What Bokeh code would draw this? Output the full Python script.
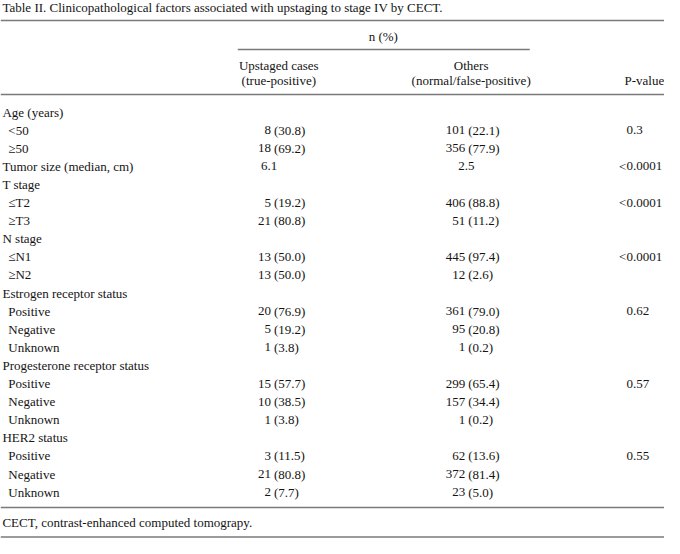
from bokeh.plotting import figure
from bokeh.models import Range1d, ColumnDataSource
from bokeh.core.properties import value
from bokeh.embed import file_html
from bokeh.resources import INLINE

# ---------------- data ----------------
title = "Table II. Clinicopathological factors associated with upstaging to stage IV by CECT."
group_header = "n (%)"
col_headers = [["Upstaged cases", "(true-positive)"], ["Others", "(normal/false-positive)"], ["", "P-value"]]
footnote = "CECT, contrast-enhanced computed tomograpy."

row_labels = ["Age (years)", "<50", "\u226550", "Tumor size (median, cm)", "T stage", "\u2264T2", "\u2265T3",
              "N stage", "\u2264N1", "\u2265N2", "Estrogen receptor status", "Positive", "Negative", "Unknown",
              "Progesterone receptor status", "Positive", "Negative", "Unknown", "HER2 status",
              "Positive", "Negative", "Unknown"]
row_is_sub = [0, 1, 1, 0, 0, 1, 1, 0, 1, 1, 0, 1, 1, 1, 0, 1, 1, 1, 0, 1, 1, 1]
upstaged = ["", "8 (30.8)", "18 (69.2)", "6.1", "", "5 (19.2)", "21 (80.8)", "", "13 (50.0)", "13 (50.0)",
            "", "20 (76.9)", "5 (19.2)", "1 (3.8)", "", "15 (57.7)", "10 (38.5)", "1 (3.8)", "",
            "3 (11.5)", "21 (80.8)", "2 (7.7)"]
others = ["", "101 (22.1)", "356 (77.9)", "2.5", "", "406 (88.8)", "51 (11.2)", "", "445 (97.4)", "12 (2.6)",
          "", "361 (79.0)", "95 (20.8)", "1 (0.2)", "", "299 (65.4)", "157 (34.4)", "1 (0.2)", "",
          "62 (13.6)", "372 (81.4)", "23 (5.0)"]
p_values = ["", "0.3", "", "<0.0001", "", "<0.0001", "", "", "<0.0001", "", "", "0.62", "", "", "",
            "0.57", "", "", "", "0.55", "", ""]

# ---------------- layout (reference pixel coordinates) ----------------
FONT = value("Liberation Serif")
FS = "13px"
TXT = "#141414"
LINE = "#7a7a7a"

p = figure(width=664, height=538, output_backend="svg", toolbar_location=None,
           x_range=Range1d(0, 680), y_range=Range1d(546, 8), min_border=0)
p.axis.visible = False
p.grid.visible = False
p.outline_line_color = None
p.background_fill_color = "white"
p.border_fill_color = "white"

row_y0 = 119.5
row_dy = 18.1
label_x = [2, 8]
col_paren = [280, 479]
col_center = [285, 482]
single_x = [275, 477]
p_dec = 641

def txt(xs, ys, ts, align="left"):
    src = ColumnDataSource(dict(x=xs, y=ys, t=ts))
    p.text(x="x", y="y", text="t", source=src, text_font=FONT, text_font_size=FS,
           text_color=TXT, text_align=align, text_baseline="middle")

# title & header
txt([2], [14.5], [title])
txt([392], [44], [group_header], "center")
txt(col_center, [73, 73], [col_headers[0][0], col_headers[1][0]], "center")
txt(col_center, [88, 88], [col_headers[0][1], col_headers[1][1]], "center")
txt([639], [88], [col_headers[2][1]], "left")

# rules
p.segment(x0=[0, 0, 0, 0], x1=[680, 680, 680, 680], y0=[28, 102, 515, 544.5], y1=[28, 102, 515, 544.5],
          line_color=LINE, line_width=1.7)
p.segment(x0=[243], x1=[542], y0=[57], y1=[57], line_color=LINE, line_width=1.3)

# body
ys = [row_y0 + i * row_dy for i in range(len(row_labels))]
txt([label_x[s] for s in row_is_sub], ys, row_labels)

for ci, col in enumerate([upstaged, others]):
    lx, ly, lt, rx, ry, rt, cx, cy, ct = [], [], [], [], [], [], [], [], []
    for y, s in zip(ys, col):
        if not s:
            continue
        if " (" in s:
            a, b = s.split(" (", 1)
            rx.append(col_paren[ci] - 3); ry.append(y); rt.append(a)
            lx.append(col_paren[ci]); ly.append(y); lt.append("(" + b)
        else:
            cx.append(single_x[ci]); cy.append(y); ct.append(s)
    txt(rx, ry, rt, "right")
    txt(lx, ly, lt, "left")
    txt(cx, cy, ct, "center")

px, py, pt, qx, qy, qt = [], [], [], [], [], []
for y, s in zip(ys, p_values):
    if not s:
        continue
    if s.startswith("<"):
        qx.append(p_dec); qy.append(y); qt.append("<")
        s = s[1:]
    px.append(p_dec); py.append(y); pt.append(s)
txt(qx, qy, qt, "right")
txt(px, py, pt, "left")

txt([2], [530], [footnote])

open("out.html", "w").write(file_html(p, INLINE))
